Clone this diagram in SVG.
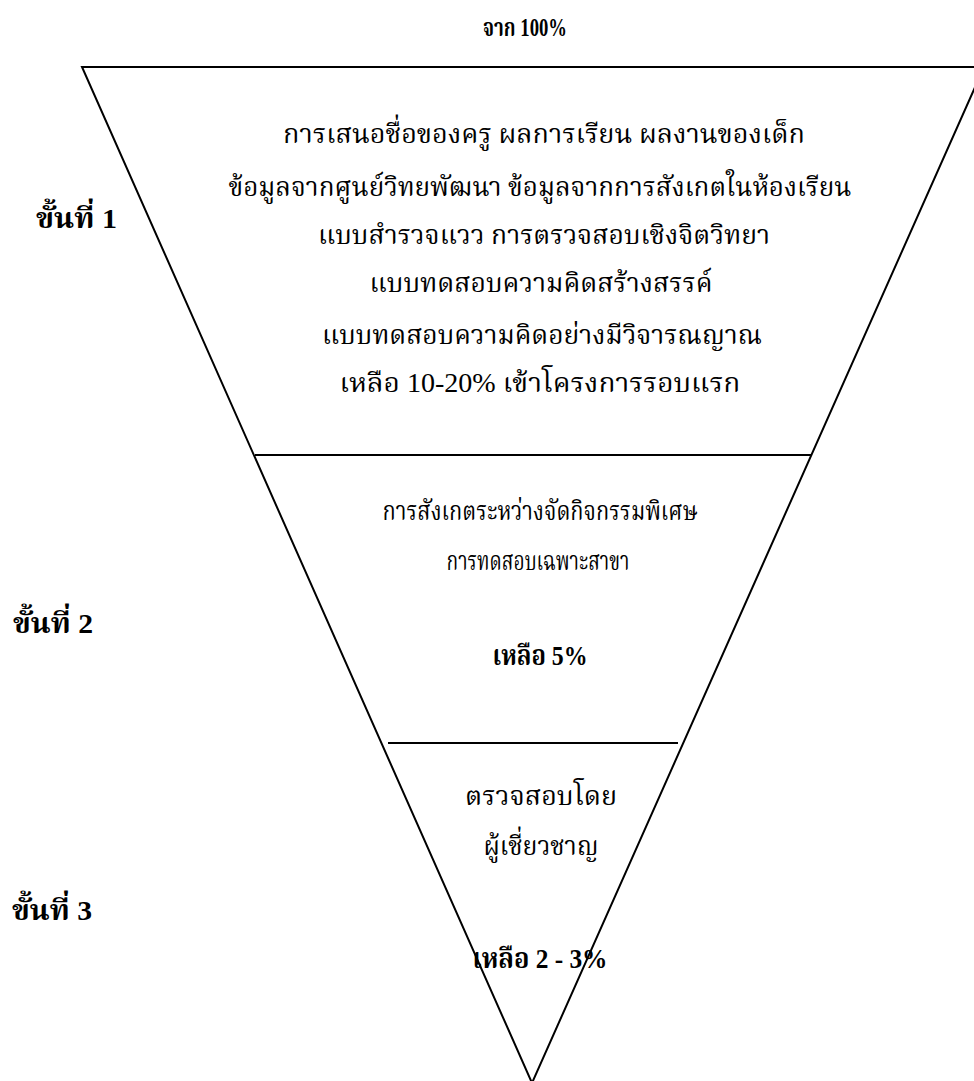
<svg xmlns="http://www.w3.org/2000/svg" width="974" height="1081" viewBox="0 0 974 1081">
<style>
.t{font-family:"Liberation Serif","Noto Serif Thai","Noto Sans Thai",serif;font-size:27px;fill:#000;text-anchor:middle}
.b{font-family:"Liberation Serif","Noto Serif Thai","Noto Sans Thai",serif;font-size:28px;font-weight:bold;fill:#000}
.ln{stroke:#000;stroke-width:2;fill:none}
</style>
<rect width="974" height="1081" fill="#fff"/>
<g id="funnel">
<path class="ln" d="M82,67 L984,67 L532,1083 Z"/>
</g>
<g id="connectors">
<line class="ln" x1="255" y1="455" x2="812" y2="455"/>
<line class="ln" x1="388" y1="743" x2="678" y2="743"/>
</g>
<g id="title"><text class="b" x="525" y="36" text-anchor="middle" textLength="84" lengthAdjust="spacingAndGlyphs" style="font-size:25px">จาก 100%</text></g>
<g id="stage1">
<text class="t" x="544" y="143" textLength="522" lengthAdjust="spacingAndGlyphs">การเสนอชื่อของครู  ผลการเรียน ผลงานของเด็ก</text>
<text class="t" x="540" y="196" textLength="623" lengthAdjust="spacingAndGlyphs">ข้อมูลจากศูนย์วิทยพัฒนา ข้อมูลจากการสังเกตในห้องเรียน</text>
<text class="t" x="544" y="244" textLength="452" lengthAdjust="spacingAndGlyphs">แบบสำรวจแวว การตรวจสอบเชิงจิตวิทยา</text>
<text class="t" x="541" y="292" textLength="343" lengthAdjust="spacingAndGlyphs">แบบทดสอบความคิดสร้างสรรค์</text>
<text class="t" x="542" y="344" textLength="440" lengthAdjust="spacingAndGlyphs">แบบทดสอบความคิดอย่างมีวิจารณญาณ</text>
<text class="t" x="540" y="392" textLength="401" lengthAdjust="spacingAndGlyphs">เหลือ 10-20% เข้าโครงการรอบแรก</text>
</g>
<g id="stage2">
<text class="t" x="540" y="520" textLength="315" lengthAdjust="spacingAndGlyphs">การสังเกตระหว่างจัดกิจกรรมพิเศษ</text>
<text class="t" x="538" y="570" textLength="183" lengthAdjust="spacingAndGlyphs">การทดสอบเฉพาะสาขา</text>
<text class="b" x="540" y="665" text-anchor="middle" textLength="95" lengthAdjust="spacingAndGlyphs">เหลือ 5%</text>
</g>
<g id="stage3">
<text class="t" x="541" y="805" textLength="152" lengthAdjust="spacingAndGlyphs">ตรวจสอบโดย</text>
<text class="t" x="541" y="855" textLength="115" lengthAdjust="spacingAndGlyphs">ผู้เชี่ยวชาญ</text>
<text class="b" x="540" y="968" text-anchor="middle" textLength="135" lengthAdjust="spacingAndGlyphs">เหลือ 2 - 3%</text>
</g>
<g id="labels">
<text class="b" x="36" y="228" textLength="81" lengthAdjust="spacingAndGlyphs">ขั้นที่ 1</text>
<text class="b" x="13" y="633" textLength="80" lengthAdjust="spacingAndGlyphs">ขั้นที่ 2</text>
<text class="b" x="12" y="920" textLength="80" lengthAdjust="spacingAndGlyphs">ขั้นที่ 3</text>
</g>
</svg>
